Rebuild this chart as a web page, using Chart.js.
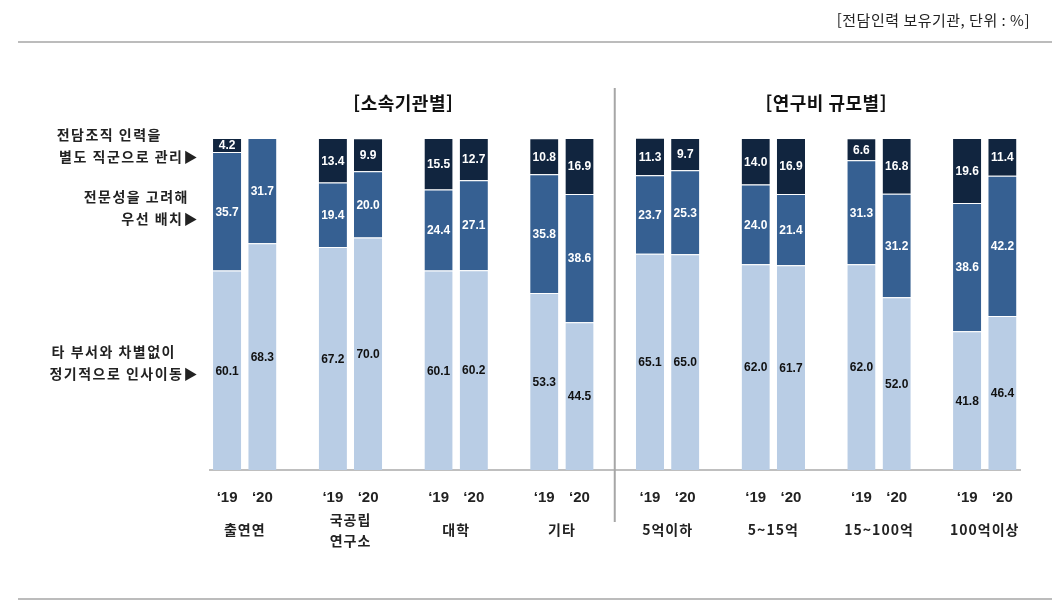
<!DOCTYPE html>
<html lang="ko">
<head>
<meta charset="UTF-8" />
<title>전담인력 보유기관 인사관리 방식</title>
<script src="https://cdn.jsdelivr.net/npm/chart.js"></script>
<style>
  html, body { margin: 0; padding: 0; background: #fff; }
  #wrap { width: 1063px; height: 609px; position: relative; }
</style>
</head>
<body>
<div id="wrap"><canvas id="chart" width="1063" height="609"></canvas></div>
<script>
// slots: each group has '19 and '20, with an empty spacer slot between groups
const yearLabels = ["‘19", "‘20", "", "‘19", "‘20", "", "‘19", "‘20", "", "‘19", "‘20", "",
                    "‘19", "‘20", "", "‘19", "‘20", "", "‘19", "‘20", "", "‘19", "‘20"];
const groupNames = [["출연연"], ["국공립", "연구소"], ["대학"], ["기타"],
                    ["5억이하"], ["5~15억"], ["15~100억"], ["100억이상"]];
const sectionTitles = ["[소속기관별]", "[연구비 규모별]"];

// bottom -> top
const rotation = [60.1, 68.3, null, 67.2, 70.0, null, 60.1, 60.2, null, 53.3, 44.5, null,
                  65.1, 65.0, null, 62.0, 61.7, null, 62.0, 52.0, null, 41.8, 46.4];
const priority = [35.7, 31.7, null, 19.4, 20.0, null, 24.4, 27.1, null, 35.8, 38.6, null,
                  23.7, 25.3, null, 24.0, 21.4, null, 31.3, 31.2, null, 38.6, 42.2];
const separate = [4.2, 0, null, 13.4, 9.9, null, 15.5, 12.7, null, 10.8, 16.9, null,
                  11.3, 9.7, null, 14.0, 16.9, null, 6.6, 16.8, null, 19.6, 11.4];

const seriesNames = [["타 부서와 차별없이", "정기적으로 인사이동▶"],
                     ["전문성을 고려해", "우선 배치▶"],
                     ["전담조직 인력을", "별도 직군으로 관리▶"]];
// value on the y scale where each side label sits
const seriesLabelAt = [32.2, 78.9, 97.6];

const KR = '"Noto Sans CJK KR", "Noto Sans", sans-serif';
const NUM = '"Liberation Sans", Arial, sans-serif';

const decorPlugin = {
  id: 'decor',
  afterDraw(chart) {
    const ctx = chart.ctx;
    const x = chart.scales.x, y = chart.scales.y;
    ctx.save();

    // header note + rules
    ctx.fillStyle = '#222';
    ctx.font = '15px ' + KR;
    ctx.textAlign = 'right';
    ctx.textBaseline = 'middle';
    ctx.letterSpacing = '0.5px';
    ctx.fillText('[전담인력 보유기관, 단위 : %]', 1030, 20);
    ctx.strokeStyle = '#A6A6A6';
    ctx.lineWidth = 1.5;
    ctx.beginPath();
    ctx.moveTo(18, 42); ctx.lineTo(1052, 42);
    ctx.moveTo(18, 599); ctx.lineTo(1052, 599);
    ctx.stroke();

    // divider between sections (on the spacer slot)
    const divX = x.getPixelForValue(11);
    ctx.lineWidth = 2;
    ctx.beginPath();
    ctx.moveTo(divX, 88); ctx.lineTo(divX, 522);
    ctx.stroke();

    // section titles
    ctx.fillStyle = '#111';
    ctx.font = 'bold 18px ' + KR;
    ctx.letterSpacing = '0.5px';
    ctx.textAlign = 'center';
    const leftMid = (x.getPixelForValue(0) + x.getPixelForValue(10)) / 2;
    const rightMid = (x.getPixelForValue(12) + x.getPixelForValue(22)) / 2;
    ctx.fillText(sectionTitles[0], leftMid, 103);
    ctx.fillText(sectionTitles[1], rightMid, 103);

    // group names
    ctx.font = 'bold 14px ' + KR;
    ctx.letterSpacing = '1px';
    ctx.fillStyle = '#222';
    groupNames.forEach((lines, i) => {
      const cx = (x.getPixelForValue(i * 3) + x.getPixelForValue(i * 3 + 1)) / 2;
      const top = 530 - (lines.length - 1) * 10.5;
      lines.forEach((t, j) => ctx.fillText(t, cx, top + j * 21));
    });

    // series labels on the left
    ctx.textAlign = 'right';
    ctx.font = 'bold 14px ' + KR;
    ctx.letterSpacing = '1.5px';
    const firstLineRight = [176, 189, 162];
    seriesNames.forEach((lines, i) => {
      const cy = y.getPixelForValue(seriesLabelAt[i]);
      ctx.fillText(lines[0], firstLineRight[i], cy - 11);
      ctx.fillText(lines[1], 199, cy + 11);
    });

    // value labels
    ctx.textAlign = 'center';
    ctx.letterSpacing = '0px';
    ctx.font = 'bold 12px ' + NUM;
    chart.data.datasets.forEach((ds, di) => {
      const meta = chart.getDatasetMeta(di);
      meta.data.forEach((bar, i) => {
        const v = ds.data[i];
        if (v === null || v === 0) return;
        const cy = (bar.y + bar.base) / 2;
        ctx.fillStyle = di === 0 ? '#111' : '#fff';
        ctx.fillText(v.toFixed(1), bar.x, cy + 1);
      });
    });
    ctx.restore();
  }
};

new Chart(document.getElementById('chart'), {
  type: 'bar',
  data: {
    labels: yearLabels,
    datasets: [
      { label: seriesNames[0].join(' '), data: rotation, backgroundColor: '#B9CDE5' },
      { label: seriesNames[1].join(' '), data: priority, backgroundColor: '#366092' },
      { label: seriesNames[2].join(' '), data: separate, backgroundColor: '#11253F' }
    ].map(d => Object.assign(d, {
      barPercentage: 0.8, categoryPercentage: 1,
      borderColor: 'rgba(255,255,255,0.6)', borderWidth: { top: 1 }, borderSkipped: false
    }))
  },
  options: {
    responsive: false,
    animation: false,
    layout: { padding: { left: 209.5, right: 43, top: 138, bottom: 83 } },
    plugins: { legend: { display: false }, tooltip: { enabled: false } },
    scales: {
      x: {
        stacked: true,
        grid: { display: false, drawTicks: false },
        border: { display: true, color: '#BFBFBF', width: 2 },
        ticks: { color: '#222', padding: 19, maxRotation: 0, autoSkip: false,
                 font: { family: NUM, size: 15, weight: 'bold' } }
      },
      y: {
        stacked: true, display: false, min: 0, max: 100
      }
    }
  },
  plugins: [decorPlugin]
});
</script>
</body>
</html>
